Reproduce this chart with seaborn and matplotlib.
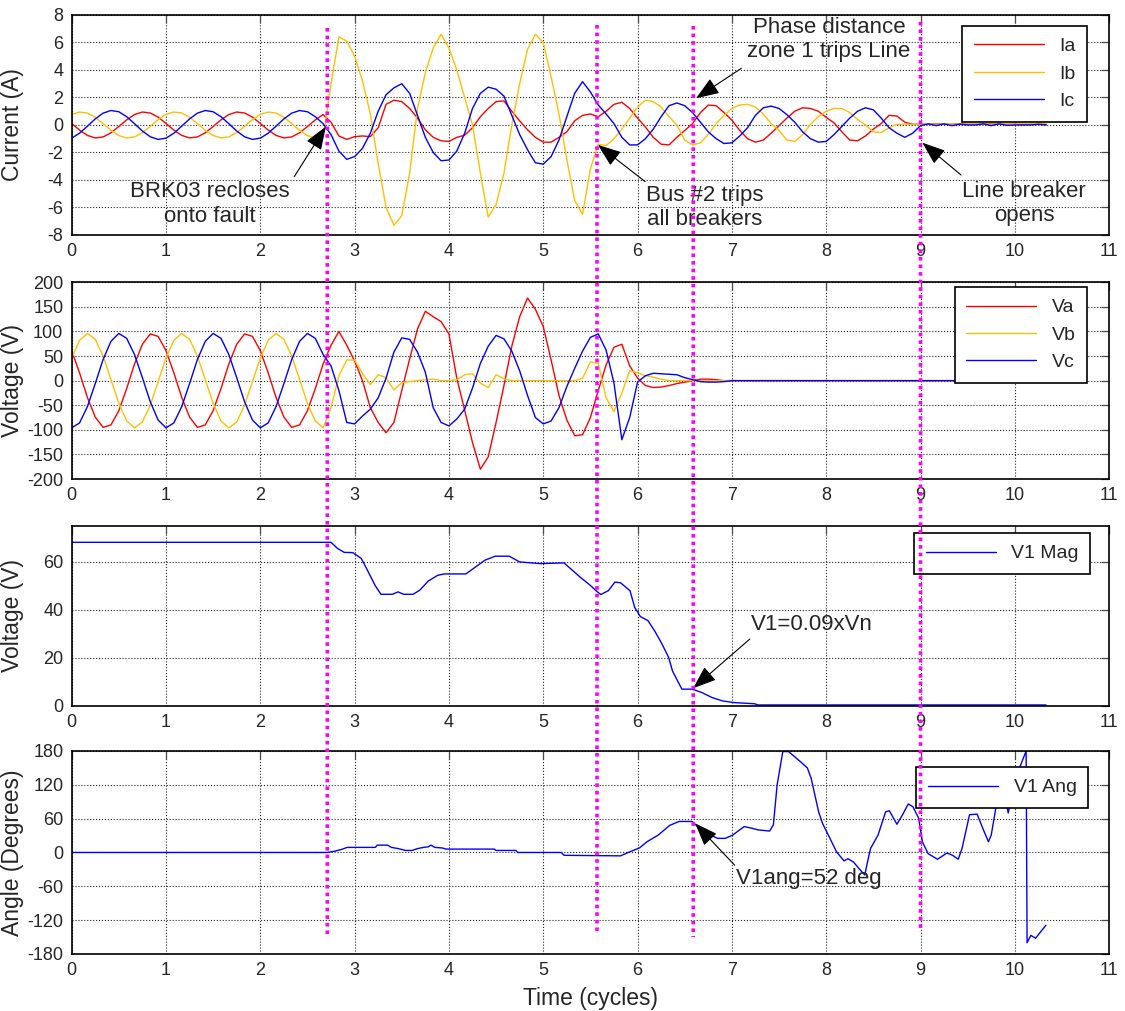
import numpy as np
import pandas as pd
import matplotlib
matplotlib.use('Agg')
import matplotlib.pyplot as plt
from matplotlib.patches import ConnectionPatch
import seaborn as sns

# --- Data ---
# waveform samples every 1/12 cycle from 0 to 10.33 cycles
T_WAVE = np.arange(125) / 12.0

IA = [
    0.11, -0.37, -0.76, -0.94, -0.87, -0.57, -0.11, 0.37, 0.76, 0.94, 0.87, 0.57,
    0.11, -0.37, -0.76, -0.94, -0.87, -0.57, -0.11, 0.37, 0.76, 0.94, 0.87, 0.57,
    0.11, -0.37, -0.76, -0.94, -0.87, -0.57, -0.11, 0.37, 0.76,
    0.2, -0.8, -1.05, -0.85, -0.8, -0.85, -0.2, 1.5, 1.8, 1.7, 1.2, 0.5, -0.35, -0.9, -1.15,
    -1.2, -0.9, -0.75, -0.2, 0.6, 1.2, 1.7, 1.75, 1.0, 0.3, -0.35, -0.9,
    -1.25, -1.25, -0.9, -0.5, 0.3, 0.7, 0.8, 0.6, 1.0, 1.5, 1.65, 1.2,
    0.5, -0.15, -0.9, -1.4, -1.45, -0.9, -0.4, 0.1, 0.9, 1.45, 1.4, 0.9,
    0.35, -0.4, -1.0, -1.25, -1.1, -0.6, -0.05, 0.5, 1.0, 1.25, 1.2, 1.0,
    0.55, 0.15, -0.5, -1.1, -1.15, -0.8, -0.3, 0.1, 0.7, 0.65, 0.2, 0.05,
    0.05, 0.05, 0.08, 0.05, 0.05, 0.08, 0.05, 0.05, 0.05, 0.08, 0.05, 0.05,
    0.05, 0.05, 0.05, 0.05, 0.05,
]
IB = [
    0.77, 0.94, 0.87, 0.56, 0.10, -0.39, -0.77, -0.94, -0.87, -0.56, -0.10, 0.39,
    0.77, 0.94, 0.87, 0.56, 0.10, -0.39, -0.77, -0.94, -0.87, -0.56, -0.10, 0.39,
    0.77, 0.94, 0.87, 0.56, 0.10, -0.39, -0.77, -0.94, -0.87,
    3.0, 6.4, 6.1, 5.0, 3.2, 0.8, -2.8, -6.0, -7.3, -6.6, -3.5, 1.2, 3.8, 5.6, 6.6,
    5.6, 4.0, 2.0, 0.0, -3.5, -6.7, -5.8, -3.5, 0.0, 3.0, 5.5, 6.6,
    6.0, 3.5, 0.8, -2.5, -5.5, -6.5, -3.2, -1.4, -1.5, -1.0, -0.3, 0.5,
    1.3, 1.8, 1.7, 1.3, 0.6, 0.0, -1.1, -1.45, -1.3, -0.7, 0.1, 0.7,
    1.2, 1.45, 1.5, 1.3, 0.8, 0.1, -0.4, -1.1, -1.2, -0.7, 0.05, 0.6,
    1.0, 1.2, 1.2, 0.9, 0.4, 0.0, -0.5, -0.55, -0.2, 0.05, 0.05, 0.05,
    0.05, 0.05, 0.05, 0.05, 0.05, 0.05, 0.05, 0.05, 0.05, 0.05, 0.05, 0.05,
    0.05, 0.08, 0.1, 0.1, 0.1,
]
IC = [
    -0.96, -0.60, -0.09, 0.44, 0.86, 1.05, 0.96, 0.60, 0.09, -0.44, -0.86, -1.05,
    -0.96, -0.60, -0.09, 0.44, 0.86, 1.05, 0.96, 0.60, 0.09, -0.44, -0.86, -1.05,
    -0.96, -0.60, -0.09, 0.44, 0.86, 1.05, 0.96, 0.60, 0.09,
    -0.7, -1.9, -2.5, -2.3, -1.7, -0.6, 1.0, 2.2, 2.7, 3.0, 2.3, 0.7, -0.9, -2.0, -2.6,
    -2.55, -1.9, -0.6, 1.2, 2.3, 2.75, 2.6, 2.1, 0.7, -0.7, -1.8, -2.75,
    -2.85, -2.3, -1.1, 0.6, 2.3, 3.15, 2.4, 1.45, 0.8, 0.1, -0.9, -1.45,
    -1.45, -1.0, -0.3, 0.6, 1.4, 1.6, 1.4, 0.9, 0.2, -0.5, -1.0, -1.35,
    -1.3, -0.8, -0.2, 0.7, 1.25, 1.37, 1.2, 0.75, 0.2, -0.5, -1.0, -1.25,
    -1.2, -0.7, -0.1, 0.5, 1.0, 1.25, 1.1, 0.5, -0.2, -0.6, -0.9, -0.6,
    -0.05, 0.08, -0.05, 0.08, -0.05, 0.05, 0.0, 0.0, 0.08, -0.05, 0.08, -0.03,
    0.0, 0.0, 0.0, 0.05, 0.0,
]

VA = [
    61, 16, -34, -74, -95, -90, -61, -16, 34, 74, 95, 90,
    61, 16, -34, -74, -95, -90, -61, -16, 34, 74, 95, 90,
    61, 16, -34, -74, -95, -90, -61, -16, 34,
    72, 100, 72, 40, 0, -55, -85, -106, -85, -20, 44, 105, 141, 130, 120,
    95, 5, -60, -126, -180, -155, -85, -10, 70, 130, 168, 145,
    110, 42, -30, -80, -112, -110, -75, -20, 32, 68, 74, 30,
    5, -10, -14, -13, -10, -6, -3, 0, 3, 3, 2, 0,
    0, 0, 0, 0, 0, 0, 0, 0, 0, 0, 0, 0,
    0, 0, 0, 0, 0, 0, 0, 0, 0, 0, 0, 0,
    0, 0, 0, 0, 0, 0, 0, 0, 0, 0, 0, 0,
    0, 0, 0, 0, 0,
]
VB = [
    46, 82, 96, 84, 50, 2, -46, -82, -96, -84, -50, -2,
    46, 82, 96, 84, 50, 2, -46, -82, -96, -84, -50, -2,
    46, 82, 96, 84, 50, 2, -46, -82, -96,
    -55, 10, 42, 42, 15, -8, 12, 6, -19, -4, -2, 0, 2, 3, 0,
    0, 2, 12, 14, -5, -14, 12, 4, 0, 0, 0, 0,
    0, 0, 0, 0, 0, 5, 38, 35, -35, -63, -25, 20,
    16, 10, 7, 3, 0, 0, 0, 0, 0, 0, 0, 0,
    0, 0, 0, 0, 0, 0, 0, 0, 0, 0, 0, 0,
    0, 0, 0, 0, 0, 0, 0, 0, 0, 0, 0, 0,
    0, 0, 0, 0, 0, 0, 0, 0, 0, 0, 0, 0,
    0, 0, 0, 0, 0,
]
VC = [
    -96, -86, -53, -6, 43, 80, 96, 86, 53, 6, -43, -80,
    -96, -86, -53, -6, 43, 80, 96, 86, 53, 6, -43, -80,
    -96, -86, -53, -6, 43, 80, 96, 86, 53,
    30, -20, -85, -88, -72, -58, -35, 5, 58, 87, 84, 58, 17, -55, -85,
    -92, -78, -58, -15, 35, 70, 92, 85, 60, 20, -30, -75,
    -88, -82, -55, -12, 25, 60, 88, 95, 62, -5, -120, -75,
    -3, 10, 15, 14, 13, 12, 6, 2, -2, -3, -3, -2,
    0, 0, 0, 0, 0, 0, 0, 0, 0, 0, 0, 0,
    0, 0, 0, 0, 0, 0, 0, 0, 0, 0, 0, 0,
    0, 0, 0, 0, 0, 0, 0, 0, 0, 0, 0, 0,
    0, 0, 0, 0, 0,
]

V1_MAG_T = [0.0, 2.75, 2.82, 2.89, 2.98, 3.07, 3.13, 3.22, 3.28, 3.40, 3.46, 3.52,
            3.62, 3.69, 3.78, 3.88, 3.95, 4.18, 4.38, 4.49, 4.64, 4.75, 4.97, 5.22,
            5.31, 5.39, 5.50, 5.56, 5.61, 5.69, 5.76, 5.82, 5.92, 5.97, 6.03, 6.11,
            6.18, 6.26, 6.33, 6.37, 6.47, 6.58, 6.68, 6.79, 6.90, 7.02, 7.24, 7.28, 10.33]
V1_MAG = [68.2, 68.2, 65.6, 64.0, 63.9, 61.5, 57.0, 50.0, 46.5, 46.5, 47.5, 46.5,
          46.5, 48.2, 52.0, 54.4, 55.0, 55.0, 60.7, 62.4, 62.4, 60.0, 59.3, 59.6,
          56.5, 53.7, 50.2, 48.0, 46.4, 48.0, 51.6, 51.3, 48.0, 41.0, 37.2, 35.5,
          31.3, 25.7, 20.1, 14.5, 6.9, 6.9, 5.5, 3.4, 2.0, 1.3, 0.8, 0.3, 0.3]

V1_ANG_T = [0.0, 2.71, 2.79, 2.86, 2.92, 3.22, 3.24, 3.35, 3.39, 3.46,
            3.54, 3.61, 3.67, 3.73, 3.78, 3.81, 3.85, 3.93, 3.97, 4.48,
            4.50, 4.71, 4.73, 5.19, 5.22, 5.82, 5.90, 6.02, 6.10, 6.22,
            6.34, 6.44, 6.47, 6.58, 6.69, 6.85, 6.93, 7.01, 7.13, 7.21,
            7.28, 7.40, 7.44, 7.48, 7.54, 7.60, 7.72, 7.80, 7.84, 7.92,
            7.96, 8.04, 8.11, 8.19, 8.23, 8.29, 8.35, 8.41, 8.43, 8.47,
            8.55, 8.63, 8.67, 8.75, 8.81, 8.87, 8.92, 8.98, 9.02, 9.08,
            9.18, 9.28, 9.34, 9.40, 9.44, 9.52, 9.60, 9.66, 9.72, 9.75,
            9.81, 9.87, 9.93, 9.97, 10.05, 10.12, 10.13, 10.17, 10.22, 10.33]
V1_ANG = [0, 0, 2.4, 5.3, 9, 9, 13, 13, 9, 7,
          3.6, 3.6, 7, 9, 10, 13, 9, 8, 6, 6,
          3.6, 3.6, 0, 0, -5, -6, 0, 8, 19, 31,
          48, 55, 55, 55, 37, 25, 25, 31, 46, 43,
          40, 38, 49, 120, 179, 179, 162, 150, 132, 72,
          52, 25, 1, -15, -11, -17, -29, -40, -23, 7,
          31, 72, 74, 50, 67, 86, 81, 61, 19, -2,
          -12, -1, -5, -12, 7, 67, 68, 43, 19, 31,
          90, 120, 70, 102, 150, 180, -160, -147, -152, -129]

# event times (cycles) marked with the magenta dotted lines
EVENT_T = [2.71, 5.57, 6.59, 9.0]

for arr in (IA, IB, IC, VA, VB, VC):
    assert len(arr) == len(T_WAVE), len(arr)

# --- Style ---
sns.set_style('white')
plt.rcParams['font.family'] = ['Liberation Sans', 'DejaVu Sans']
plt.rcParams['axes.unicode_minus'] = False

RED, YELLOW, BLUE = '#FF0000', '#FFC000', '#0000FF'
ARROW = dict(arrowstyle='-|>,head_length=0.8,head_width=0.3', color='black',
             lw=0.8, shrinkA=0, shrinkB=0, mutation_scale=18)


def long_frame(t, series):
    parts = [pd.DataFrame({'t': t, 'value': vals, 'series': name}) for name, vals in series]
    return pd.concat(parts, ignore_index=True)


def draw(ax, df, names, colors, legend_anchor):
    sns.lineplot(data=df, x='t', y='value', hue='series', hue_order=names,
                 palette=dict(zip(names, colors)), estimator=None, sort=False,
                 linewidth=1.0, legend=False, ax=ax)
    leg = ax.legend(ax.get_lines()[:len(names)], names, loc='upper right',
                    bbox_to_anchor=legend_anchor, fancybox=False, framealpha=1,
                    edgecolor='black', fontsize=14, handlelength=3.6,
                    borderaxespad=0, borderpad=0.6)
    leg.get_frame().set_linewidth(1.2)


def style_axis(ax, ylim, yticks, ylabel):
    ax.set_xlim(0, 11)
    ax.set_xticks(range(12))
    ax.set_ylim(*ylim)
    ax.set_yticks(yticks)
    ax.grid(True, linestyle=':', linewidth=0.8, color='0.15')
    ax.tick_params(direction='in', top=True, right=True, length=6, width=0.9,
                   color='0.3', labelsize=13, pad=6)
    for s in ax.spines.values():
        s.set_linewidth(1.2)
        s.set_color('black')
    ax.set_xlabel('')
    ax.set_ylabel(ylabel, fontsize=16.5)
    ax.yaxis.set_label_coords(-0.046, 0.5)


fig = plt.figure(figsize=(11.25, 10.11), dpi=100)
ax1 = fig.add_axes([0.0637, 0.7676, 0.9222, 0.2176])
ax2 = fig.add_axes([0.0637, 0.5262, 0.9222, 0.1946])
ax3 = fig.add_axes([0.0637, 0.3020, 0.9222, 0.1777])
ax4 = fig.add_axes([0.0637, 0.0564, 0.9222, 0.2008])

# 1. Currents
draw(ax1, long_frame(T_WAVE, [('Ia', IA), ('Ib', IB), ('Ic', IC)]),
     ['Ia', 'Ib', 'Ic'], [RED, YELLOW, BLUE], (0.979, 0.95))
style_axis(ax1, (-8, 8), range(-8, 9, 2), 'Current (A)')

# 2. Phase voltages
draw(ax2, long_frame(T_WAVE, [('Va', VA), ('Vb', VB), ('Vc', VC)]),
     ['Va', 'Vb', 'Vc'], [RED, YELLOW, BLUE], (0.979, 0.975))
style_axis(ax2, (-200, 200), range(-200, 201, 50), 'Voltage (V)')

# 3. Positive-sequence magnitude
draw(ax3, long_frame(V1_MAG_T, [('V1 Mag', V1_MAG)]), ['V1 Mag'], [BLUE], (0.982, 0.96))
style_axis(ax3, (0, 75), [0, 20, 40, 60], 'Voltage (V)')

# 4. Positive-sequence angle
draw(ax4, long_frame(V1_ANG_T, [('V1 Ang', V1_ANG)]), ['V1 Ang'], [BLUE], (0.98, 0.92))
style_axis(ax4, (-180, 180), range(-180, 181, 60), 'Angle (Degrees)')
ax4.set_xlabel('Time (cycles)', fontsize=16.5)
ax4.xaxis.set_label_coords(0.5, -0.165)

# annotations
ax1.text(1.47, -5.75, 'BRK03 recloses\nonto fault', ha='center', va='center', fontsize=16)
ax1.annotate('', xy=(2.695, -0.12), xytext=(2.36, -3.76), arrowprops=ARROW)
ax1.text(6.71, -6.0, 'Bus #2 trips\nall breakers', ha='center', va='center', fontsize=16)
ax1.annotate('', xy=(5.58, -1.45), xytext=(6.08, -4.12), arrowprops=ARROW)
ax1.text(8.03, 6.22, 'Phase distance\nzone 1 trips Line', ha='center', va='center', fontsize=16)
ax1.annotate('', xy=(6.62, 1.94), xytext=(7.10, 4.12), arrowprops=ARROW)
ax1.text(10.1, -5.7, 'Line breaker\nopens', ha='center', va='center', fontsize=16)
ax1.annotate('', xy=(9.02, -1.29), xytext=(9.43, -3.64), arrowprops=ARROW)

ax3.text(7.85, 33.8, 'V1=0.09xVn', ha='center', va='center', fontsize=16)
ax3.annotate('', xy=(6.59, 7.3), xytext=(7.19, 27.8), arrowprops=ARROW)
ax4.text(7.82, -46, 'V1ang=52 deg', ha='center', va='center', fontsize=16)
ax4.annotate('', xy=(6.61, 51.7), xytext=(7.03, -22.6), arrowprops=ARROW)

# magenta event markers running through all four panels
for x_ev, top, bot in zip(EVENT_T, [7.05, 7.27, 7.2, 7.5], [-150, -144, -150, -141]):
    con = ConnectionPatch(xyA=(x_ev, top), coordsA=ax1.transData,
                          xyB=(x_ev, bot), coordsB=ax4.transData,
                          color='#FF00FF', lw=2.6, linestyle=(0, (1.0, 1.1)))
    con.set_capstyle('butt')
    fig.add_artist(con)

plt.savefig('out.png', dpi=100)
print('saved out.png')
